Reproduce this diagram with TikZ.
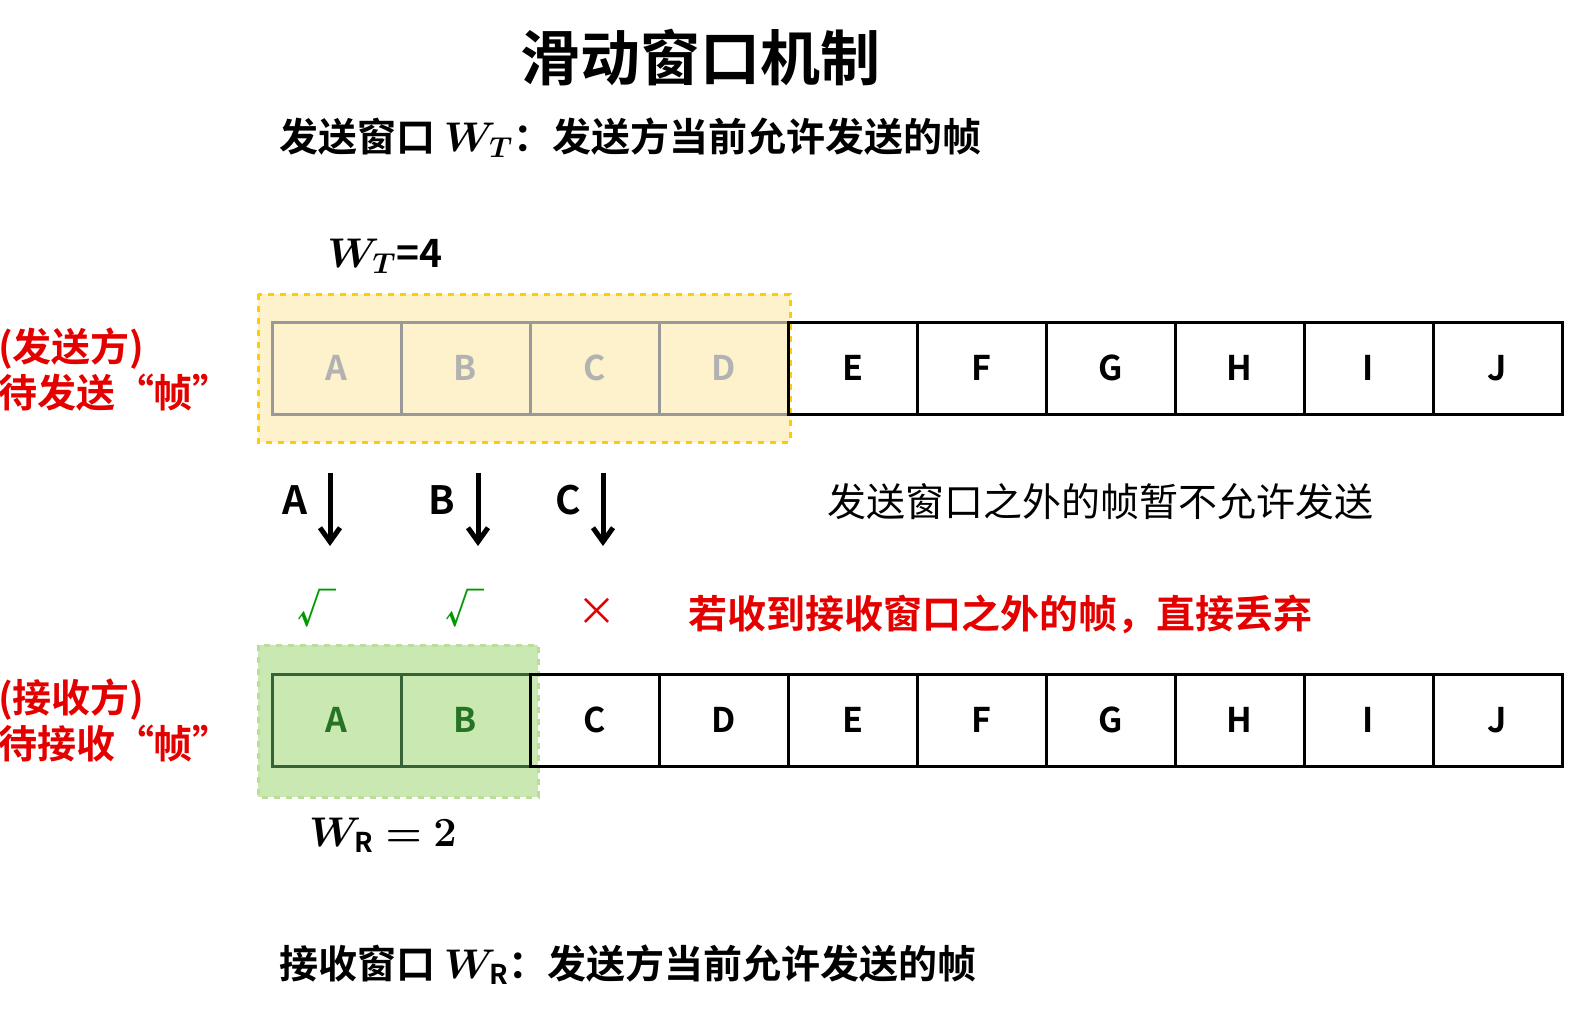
\documentclass[tikz,border=0pt]{standalone}
\usepackage{amsmath,bm}
\usepackage{fontspec}
\setmainfont{Noto Sans CJK SC}[BoldFont={Noto Sans CJK SC Bold}]
\usetikzlibrary{arrows.meta}
\begin{document}
\begin{tikzpicture}[x=0.5pt,y=-0.5pt,
 cell/.style={draw,line width=1.5pt,minimum width=64.5pt,minimum height=46pt,font=\fontsize{17}{18}\selectfont\bfseries,inner sep=0pt},
 gcell/.style={cell,draw=gray!80,text=gray!60},
 lab/.style={font=\fontsize{19.5}{23}\selectfont},
 red/.style={text=red!90!black}]
\useasboundingbox (0,0) rectangle (1596,1014);
\fill[white] (0,0) rectangle (1596,1014);
\node (title) at (700,58) {\fontsize{30}{33}\selectfont\bfseries 滑动窗口机制};
\node[lab,anchor=west] (st) at (272,138) {\bfseries 发送窗口 $\bm{W_T}$：发送方当前允许发送的帧};
\node[lab] (wt) at (385,256) {\bfseries $\bm{W_T}$=4};
\fill[yellow!50!orange!18] (258,294) rectangle (790,442);
\draw[orange!40!yellow,line width=1.5pt,dashed] (258,294) rectangle (790,442);
\fill[green!40!olive!30] (258,645) rectangle (538,797);
\draw[green!35!olive!40,line width=1.5pt,dashed] (258,645) rectangle (538,797);
\foreach \l [count=\i] in {A,B,C,D,E,F,G,H,I,J}{
  \pgfmathsetmacro\cx{272+64.5+129*(\i-1)}
  \ifnum\i<5 \node[gcell] (t\l) at (\cx,368) {\l};\else \node[cell] (t\l) at (\cx,368) {\l};\fi
  \ifnum\i<3 \node[gcell,draw=gray!70!green!60!black,text=gray!50!green!60!black] (b\l) at (\cx,720) {\l};\else \node[cell] (b\l) at (\cx,720) {\l};\fi
}
\node[lab,red,align=left] (snd) at (115,370) {\bfseries (发送方)\\\bfseries 待发送“帧”};
\node[lab,red,align=left] (rcv) at (115,720) {\bfseries (接收方)\\\bfseries 待接收“帧”};
\foreach \l/\lx/\ax in {A/295/330,B/442/478,C/568/603}{
  \node[lab] (l\l) at (\lx,500) {\bfseries \l};
  \coordinate (s\l) at (\ax,473); \coordinate (e\l) at (\ax,546);
  \draw[line width=2.5pt,-{Straight Barb[length=7pt,width=10pt]}] (s\l) -- (e\l);
}
\node[lab] (out) at (1100,502) {发送窗口之外的帧暂不允许发送};
\node[lab,text=green!60!black] (ck1) at (317,608) {\bfseries √};
\node[lab,text=green!60!black] (ck2) at (465,608) {\bfseries √};
\node[lab,red] (x) at (597,612) {×};
\node[lab,red] (drop) at (1000,614) {\bfseries 若收到接收窗口之外的帧，直接丢弃};
\node[lab] (wr) at (383,835) {$\bm{W_{\mathrm{R}}=2}$};
\node[lab,anchor=west] (rt) at (272,965) {\bfseries 接收窗口 $\bm{W_{\mathrm{R}}}$：发送方当前允许发送的帧};
\end{tikzpicture}
\end{document}
